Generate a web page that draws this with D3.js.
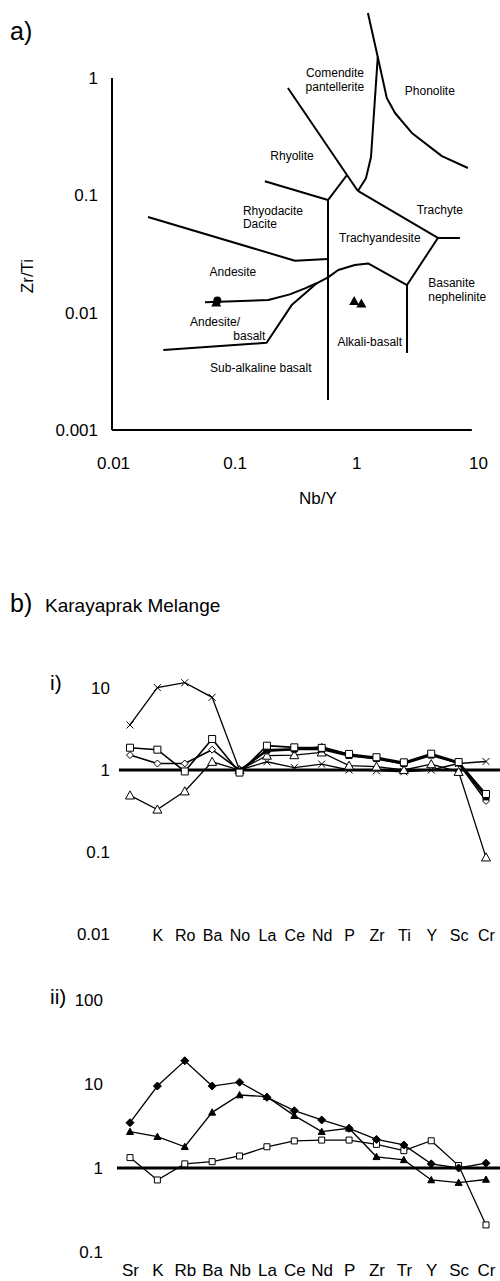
<!DOCTYPE html>
<html lang="en">
<head>
<meta charset="utf-8">
<title>Zr/Ti - Nb/Y and spider diagrams</title>
<script src="https://cdn.jsdelivr.net/npm/d3@7/dist/d3.min.js"></script>
<style>
  body { margin: 0; background: #fff; }
  svg { display: block; font-family: "Liberation Sans", Arial, sans-serif; }
  .tick text { fill: #000; }
</style>
</head>
<body>
<svg id="chart" width="500" height="1281"></svg>
<script>
// ---- panel a : Zr/Ti vs Nb/Y classification ----
var xTicksA = [0.01, 0.1, 1, 10];
var yTicksA = [0.001, 0.01, 0.1, 1];

// field boundaries, [Nb/Y, Zr/Ti]
var fieldLines = [
  [[1.245, 3.58], [1.50, 1.51], [1.32, 0.212], [1.20, 0.140], [1.03, 0.109]],
  [[1.50, 1.51], [1.78, 0.675], [2.08, 0.503], [2.86, 0.340], [5.05, 0.216], [8.26, 0.171]],
  [[0.274, 0.822], [0.838, 0.149], [1.03, 0.109]],
  [[0.177, 0.132], [0.585, 0.0912], [0.838, 0.149]],
  [[0.585, 0.0912], [0.585, 0.0018]],
  [[1.03, 0.109], [4.68, 0.0433], [7.10, 0.0433]],
  [[4.68, 0.0433], [2.61, 0.0172], [2.61, 0.00453]],
  [[0.057, 0.01225], [0.189, 0.0128], [0.284, 0.01432], [0.378, 0.0161], [0.472, 0.0178],
   [0.585, 0.0200], [0.710, 0.0231], [0.972, 0.0255], [1.25, 0.0263], [2.61, 0.0172]],
  [[0.0259, 0.0048], [0.183, 0.00554], [0.294, 0.0116], [0.378, 0.0146], [0.472, 0.0178]],
  [[0.0194, 0.0653], [0.313, 0.0277], [0.585, 0.0286]]
];

// field names: text, Nb/Y, Zr/Ti, anchor
var fieldNames = [
  ["Comendite", 0.667, 1.10, "middle"],
  ["pantellerite", 0.667, 0.838, "middle"],
  ["Phonolite", 4.02, 0.775, "middle"],
  ["Rhyolite", 0.296, 0.216, "middle"],
  ["Rhyodacite", 0.117, 0.0735, "start"],
  ["Dacite", 0.117, 0.0569, "start"],
  ["Trachyte", 4.86, 0.075, "middle"],
  ["Trachyandesite", 1.56, 0.0433, "middle"],
  ["Andesite", 0.0968, 0.0222, "middle"],
  ["Andesite/", 0.0689, 0.00836, "middle"],
  ["basalt", 0.132, 0.0063, "middle"],
  ["Alkali-basalt", 1.29, 0.00565, "middle"],
  ["Sub-alkaline basalt", 0.164, 0.00342, "middle"],
  ["Basanite", 3.90, 0.0180, "start"],
  ["nephelinite", 3.90, 0.01367, "start"]
];

// samples
var triSamples = [[0.0705, 0.0122], [0.96, 0.01256], [1.10, 0.0120]];
var dotSamples = [[0.072, 0.0127]];

// ---- panel b : normalised spider plots ----
var elemsI = ["", "K", "Ro", "Ba", "No", "La", "Ce", "Nd", "P", "Zr", "Ti", "Y", "Sc", "Cr"];
var yTicksI = [0.01, 0.1, 1, 10];
var crossI   = [3.54, 10.1, 11.6, 7.7, 1.0, 1.26, 1.07, 1.18, 1.0, 0.98, 0.95, 1.0, 1.2, 1.27];
var squareI  = [1.87, 1.77, 0.96, 2.39, 0.93, 1.98, 1.89, 1.86, 1.57, 1.43, 1.24, 1.58, 1.25, 0.51];
var diamondI = [1.52, 1.2, 1.2, 1.77, 1.0, 1.7, 1.77, 1.92, 1.54, 1.36, 1.19, 1.55, 1.2, 0.42];
var triI     = [0.49, 0.33, 0.55, 1.26, 1.0, 1.5, 1.52, 1.64, 1.13, 1.1, 1.0, 1.18, 0.95, 0.086];
var filledI  = [null, null, null, null, 0.97, 1.75, 1.8, 1.8, 1.5, 1.38, 1.2, 1.52, 1.22, 0.47];

var elemsII = ["Sr", "K", "Rb", "Ba", "Nb", "La", "Ce", "Nd", "P", "Zr", "Tr", "Y", "Sc", "Cr"];
var yTicksII = [0.1, 1, 10, 100];
var diamondII = [3.46, 9.46, 18.9, 9.46, 10.5, 6.94, 4.81, 3.73, 2.97, 2.19, 1.88, 1.12, 1.0, 1.14];
var triII     = [2.71, 2.36, 1.79, 4.6, 7.4, 7.06, 4.2, 2.71, 2.97, 1.36, 1.25, 0.72, 0.67, 0.73];
var squareII  = [1.33, 0.72, 1.12, 1.19, 1.39, 1.79, 2.1, 2.15, 2.15, 1.91, 1.61, 2.11, 1.07, 0.21];

var svg = d3.select("#chart");
var fmt = function (d) { return String(d); };

// marker shapes
function marker(type, s) {
  var h = s / 2;
  if (type == "square") return "M" + (-h) + "," + (-h) + "h" + s + "v" + s + "h" + (-s) + "Z";
  if (type == "diamond") return "M0," + (-h) + "L" + h + ",0L0," + h + "L" + (-h) + ",0Z";
  if (type == "triangle") return "M0," + (-h) + "L" + h + "," + (h * 0.8) + "L" + (-h) + "," + (h * 0.8) + "Z";
  if (type == "cross") return "M" + (-h) + "," + (-h) + "L" + h + "," + h + "M" + h + "," + (-h) + "L" + (-h) + "," + h;
  return "";
}

// ---------- a) ----------
var xA = d3.scaleLog().domain([0.01, 10]).range([113, 478]);
var yA = d3.scaleLog().domain([0.001, 1]).range([430, 78]);

svg.append("text").attr("x", 10).attr("y", 40).attr("font-size", 25).text("a)");

var gA = svg.append("g");
var lineA = d3.line().x(function (d) { return xA(d[0]); }).y(function (d) { return yA(d[1]); });

gA.selectAll("path.field")
  .data(fieldLines)
  .enter().append("path")
  .attr("class", "field")
  .attr("d", lineA)
  .attr("fill", "none")
  .attr("stroke", "#000")
  .attr("stroke-width", 2)
  .attr("stroke-linejoin", "round");

gA.selectAll("text.field")
  .data(fieldNames)
  .enter().append("text")
  .attr("class", "field")
  .attr("x", function (d) { return xA(d[1]); })
  .attr("y", function (d) { return yA(d[2]); })
  .attr("dy", "0.35em")
  .attr("text-anchor", function (d) { return d[3]; })
  .attr("font-size", 12)
  .text(function (d) { return d[0]; });

// axes
gA.append("line")
  .attr("x1", xA(0.01) - 1).attr("x2", xA(8.9))
  .attr("y1", yA(0.001)).attr("y2", yA(0.001))
  .attr("stroke", "#000").attr("stroke-width", 2);
gA.append("line")
  .attr("x1", xA(0.01) - 1).attr("x2", xA(0.01) - 1)
  .attr("y1", yA(0.001)).attr("y2", yA(1))
  .attr("stroke", "#000").attr("stroke-width", 2);

var xAxisA = d3.axisBottom(xA).tickValues(xTicksA).tickFormat(fmt).tickSize(0).tickPadding(27);
gA.append("g").attr("transform", "translate(0," + yA(0.001) + ")").call(xAxisA)
  .call(function (g) { g.select(".domain").remove(); })
  .selectAll("text").attr("font-size", 17).attr("font-family", "Liberation Sans, Arial, sans-serif");

var yAxisA = d3.axisLeft(yA).tickValues(yTicksA).tickFormat(fmt).tickSize(0).tickPadding(15);
gA.append("g").attr("transform", "translate(" + xA(0.01) + ",0)").call(yAxisA)
  .call(function (g) { g.select(".domain").remove(); })
  .selectAll("text").attr("font-size", 17).attr("font-family", "Liberation Sans, Arial, sans-serif");

svg.append("text").attr("x", 318).attr("y", 504).attr("text-anchor", "middle")
  .attr("font-size", 17).text("Nb/Y");
svg.append("text").attr("transform", "translate(33,276) rotate(-90)").attr("text-anchor", "middle")
  .attr("font-size", 17).text("Zr/Ti");

gA.selectAll("circle.sample")
  .data(dotSamples)
  .enter().append("circle")
  .attr("class", "sample")
  .attr("cx", function (d) { return xA(d[0]); })
  .attr("cy", function (d) { return yA(d[1]); })
  .attr("r", 4)
  .attr("fill", "#000");

gA.selectAll("path.sample")
  .data(triSamples)
  .enter().append("path")
  .attr("class", "sample")
  .attr("transform", function (d) { return "translate(" + xA(d[0]) + "," + yA(d[1]) + ")"; })
  .attr("d", marker("triangle", 10))
  .attr("fill", "#000");

// ---------- b) ----------
svg.append("text").attr("x", 10).attr("y", 612).attr("font-size", 25).text("b)");
svg.append("text").attr("x", 45).attr("y", 612).attr("font-size", 19).text("Karayaprak Melange");

function spider(opts) {
  var x = d3.scalePoint().domain(d3.range(opts.elems.length)).range([130, 486]);
  var y = d3.scaleLog().domain(opts.yDomain).range(opts.yRange);
  var g = svg.append("g");

  g.append("text").attr("x", 50).attr("y", opts.tagY).attr("font-size", 21).text(opts.tag);

  var yAxis = d3.axisLeft(y).tickValues(opts.yTicks).tickFormat(fmt).tickSize(0).tickPadding(0);
  g.append("g").attr("transform", "translate(" + opts.tickX + ",0)").call(yAxis)
    .call(function (s) { s.select(".domain").remove(); })
    .selectAll("text").attr("font-size", 17).attr("font-family", "Liberation Sans, Arial, sans-serif");

  g.append("line")
    .attr("x1", opts.refX).attr("x2", 500)
    .attr("y1", y(1)).attr("y2", y(1))
    .attr("stroke", "#000").attr("stroke-width", 3);

  var xAxis = d3.axisBottom(x).tickFormat(function (i) { return opts.elems[i]; }).tickSize(0).tickPadding(0);
  g.append("g").attr("transform", "translate(0," + opts.labelY + ")").call(xAxis)
    .call(function (s) { s.select(".domain").remove(); })
    .selectAll("text").attr("font-size", opts.labelSize).attr("font-family", "Liberation Sans, Arial, sans-serif");

  var line = d3.line()
    .defined(function (d) { return d != null; })
    .x(function (d, i) { return x(i); })
    .y(function (d) { return y(d); });

  opts.series.forEach(function (s) {
    g.append("path")
      .datum(s.values)
      .attr("d", line)
      .attr("fill", "none")
      .attr("stroke", "#000")
      .attr("stroke-width", s.width);

    g.selectAll(null)
      .data(s.values.map(function (v, i) { return [i, v]; }).filter(function (d) { return d[1] != null; }))
      .enter().append("path")
      .attr("transform", function (d) { return "translate(" + x(d[0]) + "," + y(d[1]) + ")"; })
      .attr("d", marker(s.shape, s.size))
      .attr("fill", s.fill)
      .attr("stroke", "#000")
      .attr("stroke-width", 1);
  });
}

spider({
  elems: elemsI, yDomain: [0.01, 10], yRange: [934, 688], yTicks: yTicksI,
  tag: "i)", tagY: 690, tickX: 110, refX: 119, labelY: 930, labelSize: 16,
  series: [
    { values: crossI, shape: "cross", size: 7, fill: "none", width: 1.3 },
    { values: triI, shape: "triangle", size: 9, fill: "#fff", width: 1.3 },
    { values: diamondI, shape: "diamond", size: 7, fill: "#fff", width: 1.6 },
    { values: filledI, shape: "square", size: 6, fill: "#000", width: 2.2 },
    { values: squareI, shape: "square", size: 7, fill: "#fff", width: 1.6 }
  ]
});

spider({
  elems: elemsII, yDomain: [0.1, 100], yRange: [1252, 1000], yTicks: yTicksII,
  tag: "ii)", tagY: 1004, tickX: 103, refX: 117, labelY: 1264, labelSize: 17,
  series: [
    { values: squareII, shape: "square", size: 6, fill: "#fff", width: 1.3 },
    { values: triII, shape: "triangle", size: 7, fill: "#000", width: 1.3 },
    { values: diamondII, shape: "diamond", size: 8, fill: "#000", width: 1.3 }
  ]
});
</script>
</body>
</html>
